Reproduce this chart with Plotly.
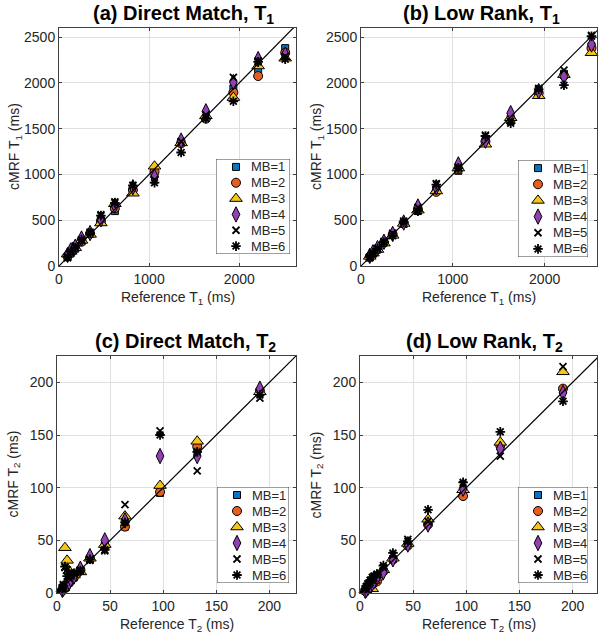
import plotly.graph_objects as go

# ---------------- data ----------------
series_names = ["MB=1", "MB=2", "MB=3", "MB=4", "MB=5", "MB=6"]

t1_ref = [95, 130, 180, 250, 345, 465, 620, 820, 1060, 1355, 1630, 1935, 2210, 2510]
t2_ref = [5, 6, 7.5, 9.5, 11.5, 13, 16, 22, 31, 45, 64, 97, 132, 191]

# (a) Direct Match, T1
dm_t1_mb1 = [100, 140, 190, 270, 350, 500, 600, 840, 1000, 1350, 1620, 1940, 2150, 2380]
dm_t1_mb2 = [110, 145, 195, 265, 355, 490, 630, 830, 1030, 1340, 1610, 1895, 2075, 2330]
dm_t1_mb3 = [130, 160, 200, 280, 345, 470, 680, 795, 1090, 1345, 1640, 1840, 2185, 2270]
dm_t1_mb4 = [120, 170, 210, 300, 360, 510, 660, 860, 975, 1370, 1690, 2010, 2260, 2310]
dm_t1_mb5 = [90, 150, 220, 280, 370, 560, 700, 880, 940, 1360, 1650, 2060, 2240, 2290]
dm_t1_mb6 = [100, 160, 200, 290, 360, 550, 690, 880, 910, 1240, 1610, 1800, 2230, 2260]

# (b) Low Rank, T1
lr_t1_mb1 = [95, 135, 180, 260, 340, 460, 600, 830, 1040, 1350, 1610, 1920, 2100, 2400]
lr_t1_mb2 = [100, 130, 185, 255, 345, 470, 620, 810, 1060, 1360, 1600, 1890, 2080, 2380]
lr_t1_mb3 = [105, 140, 180, 250, 335, 465, 610, 820, 1070, 1330, 1620, 1860, 2090, 2330]
lr_t1_mb4 = [110, 150, 195, 265, 350, 475, 650, 860, 1110, 1370, 1670, 1910, 2070, 2420]
lr_t1_mb5 = [90, 140, 190, 270, 360, 490, 640, 900, 1080, 1430, 1580, 1940, 2140, 2520]
lr_t1_mb6 = [100, 145, 190, 260, 330, 480, 600, 890, 1070, 1420, 1560, 1930, 1975, 2510]

# (c) Direct Match, T2
dm_t2_mb1 = [3, 5, 6, 8, 10, 12, 15, 21, 32, 45, 63, 95, 136, 190]
dm_t2_mb2 = [3, 4, 7, 8, 10, 13, 15, 22, 33, 44, 63, 96, 139, 192]
dm_t2_mb3 = [4, 5, 43, 31, 21, 14, 17, 20, 33, 46, 73, 102, 144, 191]
dm_t2_mb4 = [3, 4, 6, 8, 10, 13, 16, 23, 35, 50, 69, 130, 130, 194]
dm_t2_mb5 = [5, 8, 24, 22, 14, 16, 19, 22, 31, 40, 84, 154, 116, 185]
dm_t2_mb6 = [4, 7, 25, 16, 18, 17, 18, 21, 32, 41, 67, 150, 134, 188]

# (d) Low Rank, T2
lr_t2_mb1 = [2, 3, 4, 6, 8, 10, 14, 21, 32, 46, 66, 96, 139, 193]
lr_t2_mb2 = [2, 3, 4, 5, 8, 10, 11, 21, 32, 45, 65, 92, 140, 194]
lr_t2_mb3 = [3, 4, 5, 6, 4, 12, 15, 22, 33, 47, 70, 98, 143, 210]
lr_t2_mb4 = [2, 3, 5, 7, 9, 11, 15, 20, 32, 46, 65, 99, 137, 190]
lr_t2_mb5 = [4, 6, 8, 10, 12, 14, 17, 24, 36, 51, 68, 103, 130, 215]
lr_t2_mb6 = [4, 6, 9, 12, 15, 16, 18, 26, 38, 49, 79, 105, 153, 182]

panel_titles = ["(a) Direct Match, T<sub>1</sub>", "(b) Low Rank, T<sub>1</sub>",
                "(c) Direct Match, T<sub>2</sub>", "(d) Low Rank, T<sub>2</sub>"]
x_titles = ["Reference T<sub>1</sub> (ms)", "Reference T<sub>1</sub> (ms)",
            "Reference T<sub>2</sub> (ms)", "Reference T<sub>2</sub> (ms)"]
y_titles = ["cMRF T<sub>1</sub> (ms)", "cMRF T<sub>1</sub> (ms)",
            "cMRF T<sub>2</sub> (ms)", "cMRF T<sub>2</sub> (ms)"]
t1_ticks = [0, 1000, 2000]
t1_yticks = [0, 500, 1000, 1500, 2000, 2500]
t2_ticks = [0, 50, 100, 150, 200]

# ---------------- styling ----------------
W, H = 600, 638
FONT = "Liberation Sans, Arial, sans-serif"
AXC = "#262626"
styles = [
    dict(symbol="square", size=7, color="#0a74c4", line=dict(color="black", width=1)),
    dict(symbol="circle", size=9, color="#e5601f", line=dict(color="black", width=1)),
    dict(symbol="triangle-up", size=11, color="#f5c518", line=dict(color="black", width=1)),
    dict(symbol="diamond-tall", size=11, color="#9140b5", line=dict(color="black", width=1)),
    dict(symbol="x-thin", size=7, color="black", line=dict(color="black", width=1.8)),
    dict(symbol="asterisk", size=8, color="black", line=dict(color="black", width=1.8)),
]

# panel pixel boxes: (left, right, top, bottom)
boxes = [(59, 296, 28, 266), (361, 597, 28, 266), (57, 296, 356, 593), (360, 597, 356, 593)]
xranges = [[0, 2630], [0, 2570], [0, 225], [0, 223]]
yranges = [[0, 2600], [0, 2600], [0, 225], [0, 225]]
# legend boxes (left, right, top, bottom) in pixels
legend_boxes = [(216, 290, 159, 254), (518, 588, 160, 257), (217, 289, 487, 583), (518, 588, 487, 583)]
title_x = [183, 481, 185, 484]

panels = [
    (t1_ref, [dm_t1_mb1, dm_t1_mb2, dm_t1_mb3, dm_t1_mb4, dm_t1_mb5, dm_t1_mb6]),
    (t1_ref, [lr_t1_mb1, lr_t1_mb2, lr_t1_mb3, lr_t1_mb4, lr_t1_mb5, lr_t1_mb6]),
    (t2_ref, [dm_t2_mb1, dm_t2_mb2, dm_t2_mb3, dm_t2_mb4, dm_t2_mb5, dm_t2_mb6]),
    (t2_ref, [lr_t2_mb1, lr_t2_mb2, lr_t2_mb3, lr_t2_mb4, lr_t2_mb5, lr_t2_mb6]),
]

fig = go.Figure()
layout = dict(
    width=W, height=H, autosize=False, margin=dict(l=0, r=0, t=0, b=0, pad=0, autoexpand=False),
    paper_bgcolor="white", plot_bgcolor="white",
    font=dict(family=FONT, size=14, color=AXC),
    annotations=[], shapes=[], showlegend=False,
)

nitems = len(series_names)
for i, (xref, ys) in enumerate(panels):
    n = "" if i == 0 else str(i + 1)
    xa, ya = "x" + n, "y" + n
    for j, yv in enumerate(ys):
        fig.add_trace(go.Scatter(
            x=xref, y=yv, mode="markers", name=series_names[j],
            marker=styles[j], xaxis=xa, yaxis=ya, cliponaxis=False))
    fig.add_trace(go.Scatter(
        x=[0, 3000], y=[0, 3000], mode="lines", line=dict(color="black", width=1.2),
        xaxis=xa, yaxis=ya, hoverinfo="skip"))

    l, r, t, b = boxes[i]
    is_t1 = i < 2
    common = dict(showgrid=True, gridcolor="#e0e0e0", gridwidth=1, zeroline=False,
                  showline=True, linecolor="#404040", linewidth=1, mirror="ticks",
                  ticks="inside", ticklen=3, tickcolor="#404040", automargin=False,
                  tickfont=dict(family=FONT, size=14, color=AXC))
    layout["xaxis" + n] = dict(domain=[l / W, r / W], range=xranges[i], anchor=ya,
                               tickvals=t1_ticks if is_t1 else t2_ticks, **common)
    layout["yaxis" + n] = dict(domain=[1 - b / H, 1 - t / H], range=yranges[i], anchor=xa,
                               tickvals=t1_yticks if is_t1 else t2_ticks, **common)

    # ----- legend drawn in its own small (hidden) axes -----
    k = str(i + 5)
    lxa, lya = "x" + k, "y" + k
    ll, lr_, lt, lb = legend_boxes[i]
    hidden = dict(visible=False, range=[0, 1], fixedrange=True, automargin=False)
    layout["xaxis" + k] = dict(domain=[ll / W, lr_ / W], anchor=lya, **hidden)
    layout["yaxis" + k] = dict(domain=[1 - lb / H, 1 - lt / H], anchor=lxa, **hidden)
    layout["shapes"].append(dict(type="rect", xref=lxa, yref=lya, x0=0, x1=1, y0=0, y1=1,
                                 fillcolor="white", line=dict(color="#404040", width=1),
                                 layer="between"))
    sym_x = 20.0 / (lr_ - ll)
    txt_x = 33.0 / (lr_ - ll)
    for j in range(nitems):
        yy = 1 - (j + 0.5) / nitems
        fig.add_trace(go.Scatter(x=[sym_x], y=[yy], mode="markers", marker=styles[j],
                                 xaxis=lxa, yaxis=lya, hoverinfo="skip", cliponaxis=False))
        layout["annotations"].append(dict(
            text=series_names[j], x=txt_x, y=yy, xref=lxa, yref=lya,
            xanchor="left", yanchor="middle", showarrow=False,
            font=dict(family=FONT, size=13, color=AXC)))

    # titles
    layout["annotations"].append(dict(
        text="<b>" + panel_titles[i] + "</b>", x=title_x[i] / W, y=1 - (t - 14) / H,
        xref="paper", yref="paper", xanchor="center", yanchor="middle", showarrow=False,
        font=dict(family=FONT, size=20, color="black")))
    layout["annotations"].append(dict(
        text=x_titles[i], x=(l + r) / 2 / W, y=1 - (b + 32) / H,
        xref="paper", yref="paper", xanchor="center", yanchor="middle", showarrow=False,
        font=dict(family=FONT, size=14, color=AXC)))
    layout["annotations"].append(dict(
        text=y_titles[i], x=(l - 44) / W, y=1 - ((t + b) / 2) / H, textangle=-90,
        xref="paper", yref="paper", xanchor="center", yanchor="middle", showarrow=False,
        font=dict(family=FONT, size=14, color=AXC)))

fig.update_layout(**layout)
fig.write_html("out.html", config={"displayModeBar": False, "responsive": False},
               post_script="document.body.style.margin='0';document.body.style.padding='0';")
